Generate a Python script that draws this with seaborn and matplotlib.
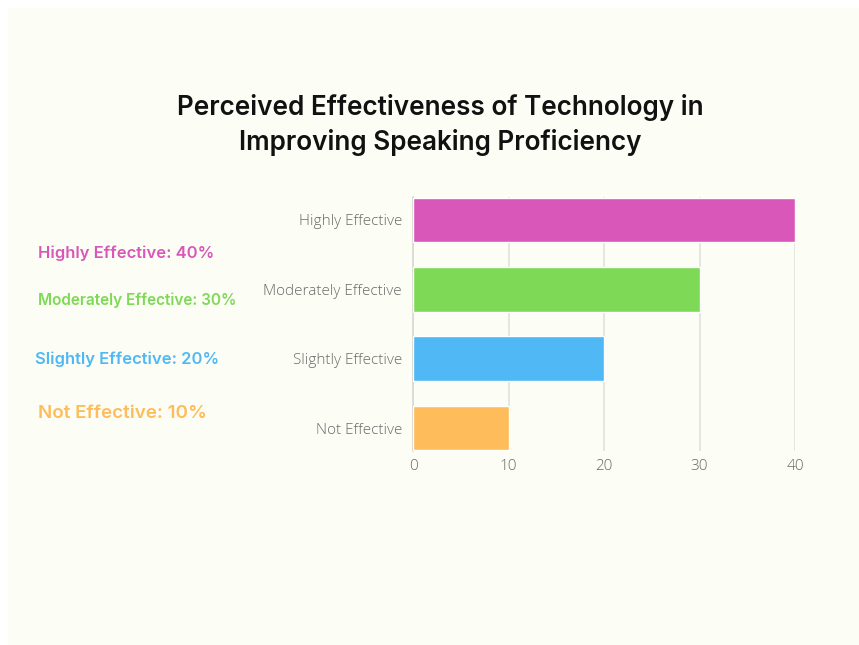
import matplotlib
matplotlib.use("Agg")
import matplotlib.pyplot as plt
import seaborn as sns
import pandas as pd

categories = ["Highly Effective", "Moderately Effective", "Slightly Effective", "Not Effective"]
percentages = [40, 30, 20, 10]
bar_colors = ["#D957B9", "#7ED957", "#4FB8F5", "#FFBC5A"]
x_ticks = [0, 10, 20, 30, 40]

bg = "#FCFDF4"

sns.set_theme(style="white")
plt.rcParams["font.family"] = ["Open Sans", "DejaVu Sans"]

df = pd.DataFrame({"category": categories, "percent": percentages})

fig = plt.figure(figsize=(8.59, 6.45), dpi=100)
fig.patch.set_facecolor("white")
# cream panel behind everything
panel = plt.Rectangle((8 / 859, 0.0), 1 - 8 / 859, 1 - 8 / 645,
                      transform=fig.transFigure, facecolor=bg, edgecolor="none", zorder=-10)
fig.patches.append(panel)

ax = fig.add_axes([413 / 859, 194 / 645, 382 / 859, 254 / 645])
ax.patch.set_alpha(0)

sns.barplot(data=df, x="percent", y="category", hue="category", palette=bar_colors,
            order=categories, width=0.64, legend=False, ax=ax, zorder=3, saturation=1)

ax.set_xlim(0, 40)
ax.set_ylim(3.33, -0.33)
ax.set_xticks(x_ticks)
ax.set_xticklabels([str(t) for t in x_ticks])
ax.set_xlabel("")
ax.set_ylabel("")

ax.grid(axis="x", color="#E2E2DE", linewidth=1.2, zorder=0)
ax.grid(axis="y", visible=False)
ax.set_axisbelow(True)
for side in ["top", "right", "bottom"]:
    ax.spines[side].set_visible(False)
ax.spines["left"].set_color("#D8D8D4")
ax.spines["left"].set_linewidth(1.2)
ax.tick_params(axis="both", length=0, colors="#6E6E6E", labelsize=11)
ax.tick_params(axis="y", pad=8)
ax.tick_params(axis="x", pad=6)
for lbl in ax.get_xticklabels() + ax.get_yticklabels():
    lbl.set_fontweight("light")
    lbl.set_color("#6A6A6A")

fig.text(440 / 859, 1 - 125 / 645,
         "Perceived Effectiveness of Technology in\nImproving Speaking Proficiency",
         ha="center", va="center", fontsize=18.8, fontweight="semibold",
         family=["Inter", "DejaVu Sans"], color="#111111", linespacing=1.4)

side_labels = [
    ("Highly Effective: 40%", 38, 253, 11.95),
    ("Moderately Effective: 30%", 38, 300, 11.05),
    ("Slightly Effective: 20%", 35, 359, 11.95),
    ("Not Effective: 10%", 38, 413, 13.5),
]
for (txt, x, y, fs), col in zip(side_labels, bar_colors):
    fig.text(x / 859, 1 - y / 645, txt, ha="left", va="center", fontsize=fs,
             fontweight="semibold", family=["Inter", "DejaVu Sans"], color=col)

fig.savefig("out.png", dpi=100, facecolor=fig.get_facecolor())
